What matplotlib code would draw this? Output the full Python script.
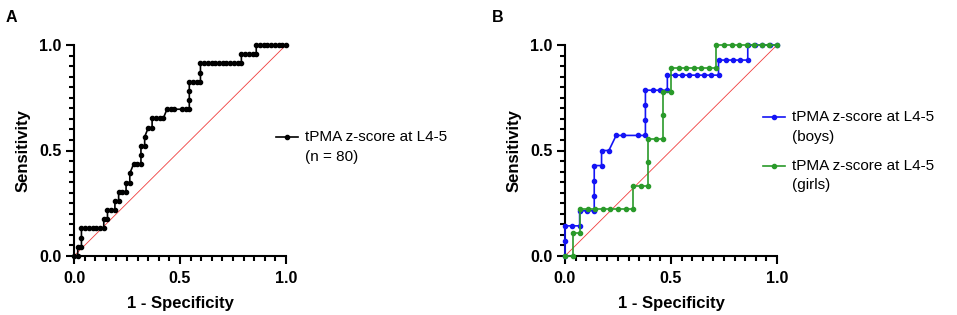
import numpy as np
import matplotlib
matplotlib.use('Agg')
import matplotlib.pyplot as plt
from matplotlib.lines import Line2D
from matplotlib.ticker import MultipleLocator

plt.rcParams['font.family'] = ['Liberation Sans', 'DejaVu Sans']

# ROC steps, as counts of false / true positives
# panel A: whole group (n = 80)
n_neg_all, n_pos_all = 57, 23
fp_all = [0, 1, 1, 2, 2, 2, 3, 4, 5, 6, 7, 8, 8, 9, 9, 10, 11, 11, 12, 12, 13, 14, 14,
          15, 15, 16, 17, 18, 18, 18, 19, 19, 20, 21, 21, 22, 23, 24, 25, 26, 27, 29,
          30, 31, 31, 31, 31, 32, 33, 34, 34, 34, 35, 36, 37, 38, 39, 40, 41, 42, 43,
          44, 45, 45, 46, 47, 48, 49, 49, 50, 51, 52, 53, 54, 55, 56, 57]
tp_all = [0, 0, 1, 1, 2, 3, 3, 3, 3, 3, 3, 3, 4, 4, 5, 5, 5, 6, 6, 7, 7, 7, 8,
          8, 9, 10, 10, 10, 11, 12, 12, 13, 14, 14, 15, 15, 15, 15, 16, 16, 16, 16,
          16, 16, 17, 18, 19, 19, 19, 19, 20, 21, 21, 21, 21, 21, 21, 21, 21, 21, 21,
          21, 21, 22, 22, 22, 22, 22, 23, 23, 23, 23, 23, 23, 23, 23, 23]

# panel B: boys
n_neg_boys, n_pos_boys = 29, 14
fp_boys = [0, 0, 0, 1, 2, 2, 3, 4, 4, 4, 4, 5, 5, 6, 7, 8, 10, 11, 11, 11, 11, 12,
           13, 14, 14, 15, 16, 17, 18, 19, 20, 21, 21, 22, 23, 24, 25, 25, 26, 27, 28, 29]
tp_boys = [0, 1, 2, 2, 2, 3, 3, 3, 4, 5, 6, 6, 7, 7, 8, 8, 8, 8, 9, 10, 11, 11,
           11, 11, 12, 12, 12, 12, 12, 12, 12, 12, 13, 13, 13, 13, 13, 14, 14, 14, 14, 14]

# panel B: girls
n_neg_girls, n_pos_girls = 28, 9
fp_girls = [0, 1, 1, 2, 2, 3, 4, 5, 6, 7, 8, 9, 9, 10, 11, 11, 11, 12, 13, 13, 13,
            14, 14, 15, 16, 17, 18, 19, 20, 20, 21, 22, 23, 24, 25, 26, 27, 28]
tp_girls = [0, 0, 1, 1, 2, 2, 2, 2, 2, 2, 2, 2, 3, 3, 3, 4, 5, 5, 5, 6, 7,
            7, 8, 8, 8, 8, 8, 8, 8, 9, 9, 9, 9, 9, 9, 9, 9, 9]

label_all = ['tPMA z-score at L4-5', '(n = 80)']
label_boys = ['tPMA z-score at L4-5', '(boys)']
label_girls = ['tPMA z-score at L4-5', '(girls)']

BLACK = '#000000'
BLUE = '#1414F5'
GREEN = '#2A9A2A'
RED = '#F03C3C'

W, H = 957, 315
fig = plt.figure(figsize=(W / 100, H / 100), dpi=100)


def fx(px):
    return px / W


def fy(py):
    return 1 - py / H


def make_axes(left):
    ax = fig.add_axes([fx(left), fy(256), fx(212), 211 / H])
    ax.set_xlim(0, 1)
    ax.set_ylim(0, 1)
    for s in ['top', 'right']:
        ax.spines[s].set_visible(False)
    for s in ['left', 'bottom']:
        ax.spines[s].set_linewidth(1.5)
    ax.set_xticks([0, 0.5, 1.0])
    ax.set_yticks([0, 0.5, 1.0])
    ax.set_xticklabels(['0.0', '0.5', '1.0'])
    ax.set_yticklabels(['0.0', '0.5', '1.0'])
    ax.xaxis.set_minor_locator(MultipleLocator(0.05))
    ax.yaxis.set_minor_locator(MultipleLocator(0.05))
    ax.tick_params(which='major', length=6, width=1.5, labelsize=11.5)
    ax.tick_params(which='minor', length=3.5, width=1.5)
    ax.tick_params(axis='x', which='major', pad=5)
    ax.tick_params(axis='y', which='major', pad=3)
    for lab in ax.get_xticklabels() + ax.get_yticklabels():
        lab.set_fontweight('bold')
    ax.set_xlabel('1 - Specificity', fontsize=12, fontweight='bold', labelpad=7)
    ax.set_ylabel('Sensitivity', fontsize=12, fontweight='bold', labelpad=6)
    ax.plot([0, 1], [0, 1], color=RED, lw=0.6, zorder=1)
    return ax


def roc(ax, fp, tp, n_neg, n_pos, color):
    x = np.array(fp) / n_neg
    y = np.array(tp) / n_pos
    ax.plot(x, y, color=color, lw=1.2, marker='o', ms=3.0, clip_on=False, zorder=3)


def legend_entry(x_line, y, lines, color):
    fig.add_artist(Line2D([fx(x_line), fx(x_line + 11), fx(x_line + 22)], [fy(y)] * 3,
                          color=color, lw=1.2, marker='o', ms=3.0, markevery=[1]))
    for i, t in enumerate(lines):
        fig.text(fx(x_line + 29), fy(y + i * 19.5), t, fontsize=11, va='center', ha='left')


axA = make_axes(74)
roc(axA, fp_all, tp_all, n_neg_all, n_pos_all, BLACK)
legend_entry(276, 137, label_all, BLACK)

axB = make_axes(565)
roc(axB, fp_boys, tp_boys, n_neg_boys, n_pos_boys, BLUE)
roc(axB, fp_girls, tp_girls, n_neg_girls, n_pos_girls, GREEN)
legend_entry(763, 117, label_boys, BLUE)
legend_entry(763, 166, label_girls, GREEN)

fig.text(fx(6), fy(18), 'A', fontsize=11.5, fontweight='bold', va='center', ha='left')
fig.text(fx(492), fy(18), 'B', fontsize=11.5, fontweight='bold', va='center', ha='left')

fig.savefig('out.png', dpi=100)
